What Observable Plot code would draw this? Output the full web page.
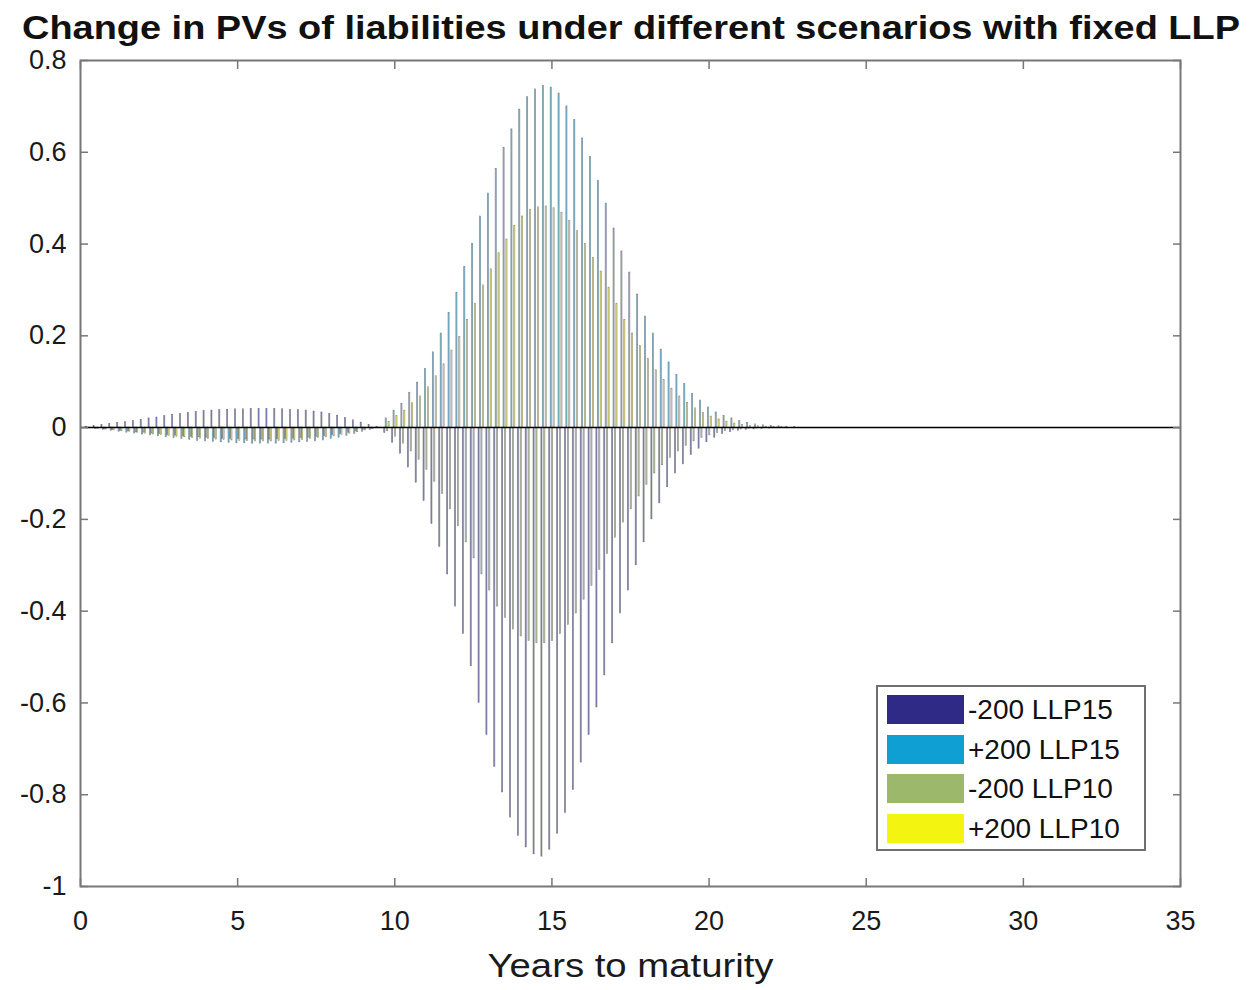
<!DOCTYPE html>
<html><head><meta charset="utf-8">
<script src="https://cdn.jsdelivr.net/npm/d3@7"></script>
<script src="https://cdn.jsdelivr.net/npm/@observablehq/plot@0.6"></script>
<style>
body{margin:0;background:#fff;font-family:"Liberation Sans",Arial,sans-serif;}
#wrap{position:relative;width:1249px;height:990px;overflow:hidden;}
#title{position:absolute;left:22px;top:10px;font-weight:bold;font-size:34px;color:#111;white-space:nowrap;transform-origin:0 0;line-height:34px;}
#legend{position:absolute;left:876px;top:685px;width:270px;height:166px;border:2px solid #6f6f6f;background:#fff;box-sizing:border-box;}
.sw{position:absolute;left:9px;width:77px;height:29px;}
.lt{position:absolute;left:90px;font-size:28px;color:#111;line-height:29px;white-space:nowrap;}
</style>
</head><body>
<div id="wrap">
<div id="chart"></div>
<div id="title">Change in PVs of liabilities under different scenarios with fixed LLP</div>
<div id="legend"></div>
</div>
<script>
const seriesNames = ["-200 LLP15", "+200 LLP15", "-200 LLP10", "+200 LLP10"];
const seriesColors = ["#2e2a86", "#0f9fd3", "#9cb96b", "#f3f40f"];
const years = d3.range(1, 93).map(k => k * 0.25); // 0.25 ... 23.0
const xTicks = [0, 5, 10, 15, 20, 25, 30, 35];
const yTicks = [0.8, 0.6, 0.4, 0.2, 0, -0.2, -0.4, -0.6, -0.8, -1];

const minus200LLP15 = [
  0.002,0.004,0.006,0.008,0.010,0.012,0.015,0.017,0.020,0.022,
  0.025,0.028,0.030,0.032,0.034,0.036,0.037,0.038,0.039,0.040,
  0.040,0.041,0.041,0.041,0.041,0.040,0.039,0.038,0.037,0.035,
  0.033,0.030,0.026,0.021,0.016,0.011,0.006,0.002,
  -0.012,-0.033,-0.057,-0.087,-0.12,-0.16,-0.21,-0.26,-0.32,-0.39,
  -0.45,-0.52,-0.60,-0.67,-0.74,-0.795,-0.85,-0.89,-0.915,-0.93,
  -0.935,-0.92,-0.885,-0.84,-0.79,-0.73,-0.67,-0.61,-0.54,-0.47,
  -0.405,-0.355,-0.30,-0.25,-0.20,-0.165,-0.13,-0.10,-0.08,-0.06,
  -0.046,-0.032,-0.022,-0.014,-0.010,-0.007,-0.005,-0.004,-0.003,-0.002,
  -0.001,-0.001,0,0
];
const plus200LLP15 = [
  -0.002,-0.003,-0.005,-0.007,-0.009,-0.011,-0.013,-0.015,-0.017,-0.019,
  -0.021,-0.023,-0.025,-0.027,-0.029,-0.030,-0.031,-0.032,-0.033,-0.034,
  -0.034,-0.035,-0.035,-0.035,-0.035,-0.034,-0.033,-0.032,-0.031,-0.030,
  -0.028,-0.025,-0.022,-0.018,-0.014,-0.009,-0.005,-0.001,
  0.02,0.037,0.052,0.076,0.098,0.128,0.164,0.205,0.25,0.294,
  0.35,0.40,0.46,0.51,0.564,0.61,0.65,0.693,0.72,0.737,
  0.745,0.741,0.728,0.70,0.67,0.63,0.59,0.538,0.488,0.434,
  0.384,0.338,0.29,0.242,0.205,0.17,0.142,0.115,0.095,0.073,
  0.059,0.044,0.033,0.025,0.02,0.014,0.010,0.007,0.005,0.004,
  0.003,0.002,0.001,0
];
const minus200LLP10 = [
  -0.001,-0.002,-0.004,-0.005,-0.007,-0.008,-0.010,-0.011,-0.013,-0.014,
  -0.016,-0.017,-0.019,-0.020,-0.021,-0.022,-0.023,-0.024,-0.025,-0.025,
  -0.026,-0.026,-0.026,-0.026,-0.025,-0.025,-0.024,-0.023,-0.022,-0.020,
  -0.018,-0.016,-0.014,-0.011,-0.008,-0.005,-0.003,-0.001,
  -0.008,-0.02,-0.035,-0.052,-0.07,-0.092,-0.118,-0.145,-0.178,-0.215,
  -0.25,-0.285,-0.32,-0.355,-0.39,-0.415,-0.44,-0.455,-0.465,-0.47,
  -0.47,-0.465,-0.45,-0.43,-0.405,-0.375,-0.345,-0.31,-0.275,-0.24,
  -0.207,-0.178,-0.15,-0.125,-0.10,-0.082,-0.066,-0.052,-0.04,-0.03,
  -0.023,-0.017,-0.012,-0.008,-0.006,-0.004,-0.003,-0.002,-0.001,-0.001,
  0,0,0,0
];
const plus200LLP10 = [
  -0.001,-0.003,-0.004,-0.006,-0.008,-0.009,-0.011,-0.013,-0.015,-0.016,
  -0.018,-0.020,-0.021,-0.023,-0.024,-0.025,-0.026,-0.027,-0.028,-0.029,
  -0.029,-0.030,-0.030,-0.030,-0.029,-0.029,-0.028,-0.027,-0.025,-0.023,
  -0.021,-0.019,-0.016,-0.013,-0.010,-0.006,-0.003,-0.001,
  0.012,0.025,0.037,0.053,0.068,0.088,0.112,0.138,0.168,0.198,
  0.235,0.27,0.31,0.345,0.38,0.41,0.44,0.46,0.475,0.48,
  0.482,0.478,0.468,0.45,0.428,0.40,0.37,0.34,0.305,0.27,
  0.235,0.205,0.178,0.15,0.125,0.104,0.085,0.068,0.054,0.042,
  0.032,0.024,0.018,0.013,0.009,0.006,0.004,0.003,0.002,0.001,
  0.001,0,0,0
];
const seriesValues = [minus200LLP15, plus200LLP15, minus200LLP10, plus200LLP10];

// MATLAB grouped-bar geometry (data spacing 0.25)
const step = 0.25;
const groupW = step * 4 / 5.5;
const slot = groupW / 4;
const barW = slot * 0.8;
const rows = [];
seriesValues.forEach((vals, i) => {
  vals.forEach((v, k) => {
    const c = years[k] + (i - 1.5) * slot;
    rows.push({x1: c - barW / 2, x2: c + barW / 2, y: v, series: seriesNames[i]});
  });
});

const fmt = d => String(Math.round(d * 10) / 10);

const chart = Plot.plot({
  width: 1249, height: 990,
  marginTop: 60, marginBottom: 104, marginLeft: 80, marginRight: 69,
  x: {domain: [0, 35]},
  y: {domain: [-1, 0.8]},
  color: {domain: seriesNames, range: seriesColors},
  style: {fontFamily: "Liberation Sans, Arial, sans-serif", fontSize: "27px", color: "#1a1a1a", background: "white", overflow: "visible"},
  marks: [
    Plot.rectY(rows, {x1: "x1", x2: "x2", y: "y", fill: "series", fillOpacity: 0.5, stroke: "#3a3a4a", strokeWidth: 0.6, strokeOpacity: 0.6}),
    Plot.ruleY([0], {stroke: "#000", strokeWidth: 1.5}),
    Plot.frame({stroke: "#777", strokeWidth: 2}),
    Plot.axisX({ticks: xTicks, tickSize: 0, tickPadding: 24, tickFormat: fmt, label: null}),
    Plot.axisX({ticks: xTicks, tickSize: -8, tickFormat: () => "", label: null, stroke: "#777", strokeWidth: 1.5}),
    Plot.axisX({anchor: "top", ticks: xTicks, tickSize: -8, tickFormat: () => "", label: null, stroke: "#777", strokeWidth: 1.5}),
    Plot.axisY({ticks: yTicks, tickSize: 0, tickPadding: 14, tickFormat: fmt, label: null}),
    Plot.axisY({ticks: yTicks, tickSize: -8, tickFormat: () => "", label: null, stroke: "#777", strokeWidth: 1.5}),
    Plot.axisY({anchor: "right", ticks: yTicks, tickSize: -8, tickFormat: () => "", label: null, stroke: "#777", strokeWidth: 1.5}),
    Plot.text(["Years to maturity"], {frameAnchor: "bottom", dy: 90, fontSize: 34, fill: "#1a1a1a", className: "xlabel"})
  ]
});
document.getElementById("chart").appendChild(chart);
// stretch the axis title to the reference's width
d3.select(chart).selectAll(".xlabel text").attr("textLength", 286).attr("lengthAdjust", "spacingAndGlyphs");

// legend
const leg = document.getElementById("legend");
seriesNames.forEach((name, i) => {
  const top = 8 + i * 39.5;
  const sw = document.createElement("div");
  sw.className = "sw"; sw.style.top = top + "px"; sw.style.background = seriesColors[i];
  const t = document.createElement("div");
  t.className = "lt"; t.style.top = top + "px"; t.textContent = name;
  leg.appendChild(sw); leg.appendChild(t);
});

// fit title width to the reference span
const title = document.getElementById("title");
const w = title.getBoundingClientRect().width;
title.style.transform = `scaleX(${1218 / w})`;
</script>
</body></html>
